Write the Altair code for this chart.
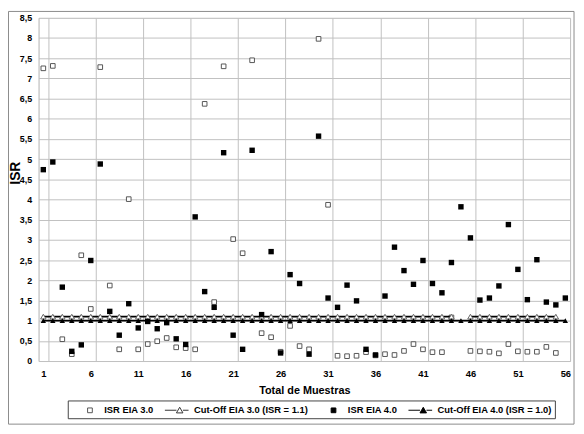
import altair as alt
import pandas as pd

muestras = list(range(1, 57))

isr_eia30 = [7.25, 7.31, 0.54, 0.17, 2.62, 1.29, 7.28, 1.87, 0.29, 4.01,
             0.29, 0.42, 0.49, 0.57, 0.34, 0.32, 0.29, 6.37, 1.46, 7.30,
             3.02, 2.67, 7.45, 0.69, 0.59, 0.23, 0.87, 0.37, 0.29, 7.98,
             3.87, 0.13, 0.12, 0.13, 0.22, 0.14, 0.17, 0.15, 0.25, 0.42,
             0.29, 0.22, 0.22, 1.08, None, 0.25, 0.24, 0.23, 0.19, 0.42,
             0.24, 0.23, 0.23, 0.35, 0.20, None]

isr_eia40 = [4.74, 4.93, 1.83, 0.24, 0.40, 2.49, 4.88, 1.23, 0.64, 1.42,
             0.82, 0.98, 0.80, 0.95, 0.55, 0.41, 3.57, 1.72, 1.33, 5.16,
             0.64, 0.29, 5.22, 1.15, 2.71, 0.20, 2.14, 1.92, 0.17, 5.57,
             1.56, 1.33, 1.88, 1.49, 0.29, 0.15, 1.61, 2.82, 2.24, 1.90,
             2.49, 1.92, 1.69, 2.44, 3.82, 3.05, 1.51, 1.56, 1.86, 3.38,
             2.27, 1.52, 2.51, 1.46, 1.39, 1.56]

cutoff_eia30 = [1.1] * 44 + [None] + [1.1] * 10 + [None]
cutoff_eia40 = [1.0] * 56

series_names = ["ISR EIA 3.0", "Cut-Off EIA 3.0 (ISR = 1.1)",
                "ISR EIA 4.0", "Cut-Off EIA 4.0 (ISR = 1.0)"]

x_tick_values = [1, 6, 11, 16, 21, 26, 31, 36, 41, 46, 51, 56]
y_tick_values = [0, 0.5, 1, 1.5, 2, 2.5, 3, 3.5, 4, 4.5, 5, 5.5, 6, 6.5, 7, 7.5, 8, 8.5]

frames = []
for name, vals in zip(series_names, [isr_eia30, cutoff_eia30, isr_eia40, cutoff_eia40]):
    d = pd.DataFrame({"muestra": muestras, "isr": vals})
    d["serie"] = name
    d["tramo"] = d["isr"].isna().cumsum()
    frames.append(d)
df = pd.concat(frames, ignore_index=True).dropna(subset=["isr"])

FONT = "Liberation Sans"

x_enc = alt.X(
    "muestra:O",
    scale=alt.Scale(type="band", domain=muestras, paddingInner=0, paddingOuter=0),
    axis=alt.Axis(
        values=x_tick_values, tickBand="extent", labelAngle=0,
        labelFont=FONT, labelFontWeight="bold", labelFontSize=9.5, labelColor="black",
        labelPadding=8, ticks=False, domain=False,
        grid=True, gridColor="#c0c0c0", gridWidth=1,
        title="Total de Muestras", titleFont=FONT, titleFontWeight="bold",
        titleFontSize=11, titleColor="black", titlePadding=6,
    ),
)
y_enc = alt.Y(
    "isr:Q",
    scale=alt.Scale(domain=[0, 8.5], nice=False, zero=True),
    axis=alt.Axis(
        values=y_tick_values,
        labelExpr="replace(toString(datum.value), '.', ',')",
        labelFont=FONT, labelFontWeight="bold", labelFontSize=9, labelColor="black",
        labelPadding=7, ticks=False, domain=False,
        grid=True, gridColor="#c0c0c0", gridWidth=1,
        title="ISR", titleFont=FONT, titleFontWeight="bold", titleFontSize=14,
        titleColor="black", titleX=-16, titleY=157,
    ),
)

base = alt.Chart(df)

def sel(name):
    return base.transform_filter(alt.datum.serie == name)

open_sq = sel(series_names[0]).mark_point(
    shape="square", size=22, fill="white", stroke="#555555", strokeWidth=1, opacity=1
).encode(x=x_enc, y=y_enc)

line30 = sel(series_names[1]).mark_line(color="black", strokeWidth=1.8).encode(
    x=x_enc, y=y_enc, detail="tramo:N")
tri30 = sel(series_names[1]).mark_point(
    shape="triangle-up", size=30, fill="white", stroke="#666666", strokeWidth=1, opacity=1
).encode(x=x_enc, y=y_enc)

fill_sq = sel(series_names[2]).mark_point(
    shape="square", size=30, filled=True, color="black", opacity=1
).encode(x=x_enc, y=y_enc)

line40 = sel(series_names[3]).mark_line(color="black", strokeWidth=1.8).encode(
    x=x_enc, y=y_enc, detail="tramo:N")
tri40 = sel(series_names[3]).mark_point(
    shape="triangle-up", size=30, filled=True, color="black", opacity=1
).encode(x=x_enc, y=y_enc)

# legend (symbols only, drawn by Vega's legend)
sq_path = "M-0.4,-0.4H0.4V0.4H-0.4Z"
tri_line_path = "M-2.5,0H-0.55M0.55,0H1.5M0,-0.5L0.55,0.45L-0.55,0.45Z"
leg = alt.Legend(
    title=None, orient="none", legendX=29.6, legendY=388,
    direction="horizontal", columns=4,
    symbolSize=144, symbolStrokeWidth=1, symbolOpacity=1,
    symbolOffset=13, labelOffset=8, columnPadding=6,
    labelFont=FONT, labelFontWeight="bold", labelFontSize=9.5, labelColor="black",
    strokeColor="#444444", padding=3, fillColor="white",
)
legend_df = pd.DataFrame({"leyenda": series_names})
legend_layer = alt.Chart(legend_df).mark_point(opacity=0).encode(
    shape=alt.Shape("leyenda:N", scale=alt.Scale(
        domain=series_names, range=[sq_path, tri_line_path, sq_path, tri_line_path]), legend=leg),
    fill=alt.Fill("leyenda:N", scale=alt.Scale(
        domain=series_names, range=["white", "white", "black", "black"]), legend=leg),
    stroke=alt.Stroke("leyenda:N", scale=alt.Scale(
        domain=series_names, range=["#555555", "#333333", "black", "black"]), legend=leg),
)

frame = alt.Chart(pd.DataFrame({"f": [0]})).mark_rect(
    fill="white", fillOpacity=0, stroke="#8a8a8a", strokeWidth=1
).encode(x=alt.value(-30.5), x2=alt.value(543), y=alt.value(-6.5), y2=alt.value(412))

chart = alt.layer(
    frame, open_sq, line30, tri30, fill_sq, line40, tri40, legend_layer
).properties(
    width=539, height=348,
    autosize=alt.AutoSizeParams(type="none"),
    padding={"left": 31, "top": 7, "right": 6, "bottom": 71},
).configure_view(
    stroke="#808080", strokeWidth=1
).configure(background="white")

chart.save("out.html", embed_options={"renderer": "svg", "actions": False})
